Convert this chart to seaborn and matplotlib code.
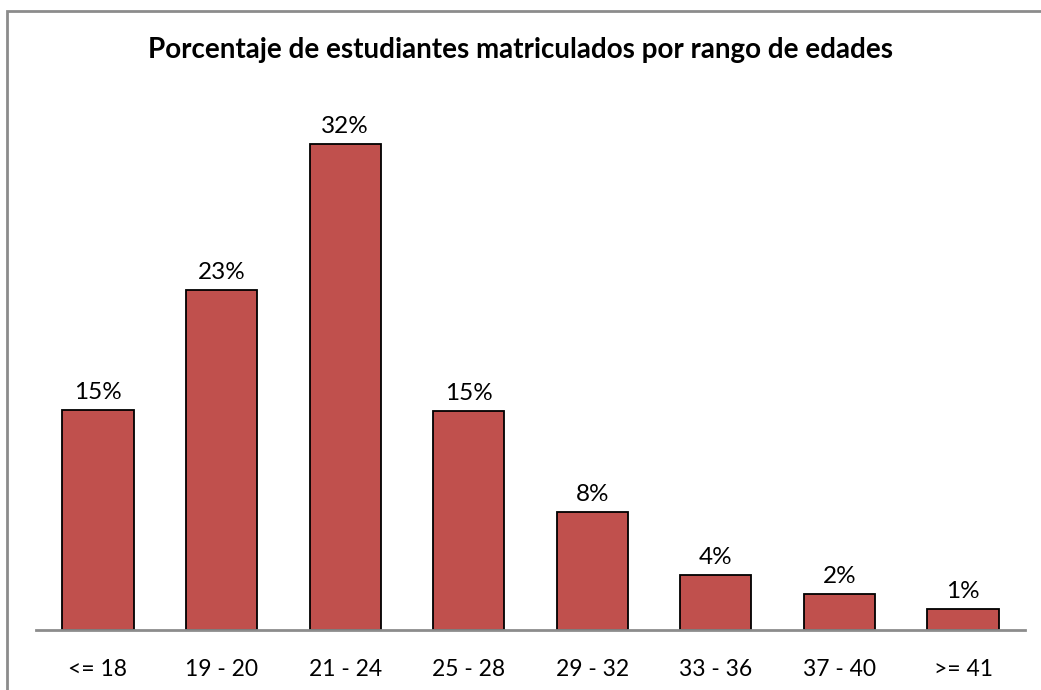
import matplotlib
matplotlib.use('Agg')
import matplotlib.pyplot as plt
import seaborn as sns
import pandas as pd
from matplotlib.patches import Rectangle

# Datos
rangos = ['<= 18', '19 - 20', '21 - 24', '25 - 28', '29 - 32', '33 - 36', '37 - 40', '>= 41']
porcentajes = [14.7, 22.7, 32.4, 14.6, 7.9, 3.7, 2.4, 1.4]
titulo = 'Porcentaje de estudiantes matriculados por rango de edades'

df = pd.DataFrame({'rango': rangos, 'porcentaje': porcentajes})

sns.set_style('white')
plt.rcParams['font.family'] = ['Lato', 'DejaVu Sans']

fig = plt.figure(figsize=(10.41, 6.90), dpi=100)
ax = fig.add_axes([36.2 / 1041, 1 - 630 / 690, 988.6 / 1041, 524.7 / 690])

sns.barplot(data=df, x='rango', y='porcentaje', ax=ax, color='#C0504D',
            saturation=1, width=0.575, edgecolor='black', linewidth=1.3)

ax.set_xlim(-0.5, 7.5)
ax.set_ylim(0, 35)
ax.set_xlabel('')
ax.set_ylabel('')
ax.set_yticks([])
for lado in ['top', 'right', 'left']:
    ax.spines[lado].set_visible(False)
ax.spines['bottom'].set_color('#8C8C8C')
ax.spines['bottom'].set_linewidth(2)
ax.tick_params(axis='x', length=0, pad=21, labelsize=16.5, labelcolor='black')

# Etiquetas de datos
for i, v in enumerate(porcentajes):
    ax.annotate(f'{round(v)}%', (i, v), xytext=(0, 5), textcoords='offset points',
                ha='center', va='bottom', fontsize=17.5, color='black')

fig.text(0.5, 1 - 50 / 690, titulo, ha='center', va='center',
         fontsize=20, fontweight='bold', color='black')

# Marco del área del gráfico
fig.patches.append(Rectangle((6.5 / 1041, -0.1), 1.2, 1 - 11 / 690 + 0.1,
                             transform=fig.transFigure, fill=False,
                             edgecolor='#8C8C8C', linewidth=2))

fig.savefig('out.png', dpi=100)
